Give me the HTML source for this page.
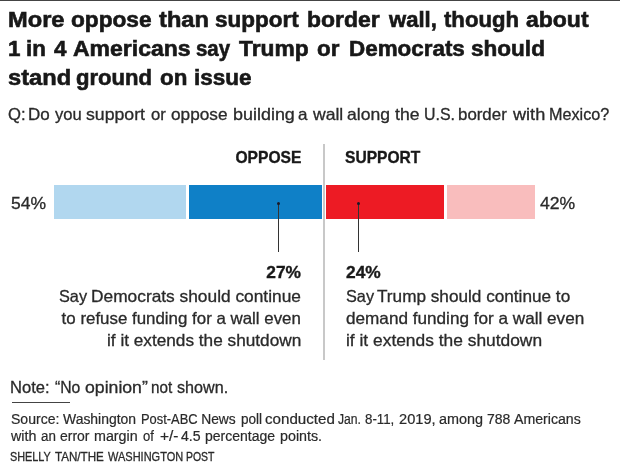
<!DOCTYPE html>
<html lang="en">
<head>
<meta charset="utf-8">
<title>More oppose than support border wall</title>
<style>
html,body{margin:0;padding:0;background:#fff;}
body{width:620px;height:472px;position:relative;overflow:hidden;font-family:"Liberation Sans",sans-serif;color:#222;}
.abs{position:absolute;white-space:nowrap;}
.L{transform-origin:0 50%;}
.R{transform-origin:100% 50%;}
#toprule{left:0;top:0;width:620px;height:1px;background:#444;}
.t{font-weight:bold;font-size:21.5px;line-height:28px;color:#181818;left:0;width:620px;height:28px;-webkit-text-stroke:0.6px #181818;}
.t span{position:absolute;top:0;white-space:nowrap;transform-origin:0 50%;}
#t1{top:6px;}
#t2{top:35.4px;}
#t3{top:63.6px;}
#q{left:0;top:104px;width:620px;height:20px;font-size:16.5px;line-height:20px;color:#2a2a2a;-webkit-text-stroke:0.3px #2a2a2a;}
#q span{position:absolute;top:0;white-space:nowrap;transform-origin:0 50%;}
.lab{font-weight:bold;font-size:16.2px;line-height:18px;color:#181818;top:148px;-webkit-text-stroke:0.35px #181818;}
#opp{right:318.5px;transform:scaleX(0.964);}
#sup{left:345.2px;transform:scaleX(0.963);}
#vline{left:323px;top:144px;width:2px;height:216px;background:#c8c8c8;}
.bar{top:185px;height:34.4px;}
#b1{left:54px;width:132px;background:#b1d7ef;}
#b2{left:188.5px;width:133px;background:#0f80c7;}
#b3{left:326px;width:118px;background:#ed1b24;}
#b4{left:446.5px;width:88px;background:#f9bdbd;}
.pct{font-size:17px;line-height:20px;color:#2a2a2a;top:194px;-webkit-text-stroke:0.3px #2a2a2a;}
#p54{left:11.3px;transform:scaleX(1.03);}
#p42{left:540.1px;transform:scaleX(1.035);}
.aline{width:1px;background:#333;top:204px;height:48px;}
.dot{width:3.4px;height:3.4px;border-radius:50%;background:#1a1a2a;top:202px;}
.num{font-weight:bold;font-size:17px;line-height:20px;color:#181818;top:262.5px;-webkit-text-stroke:0.35px #181818;}
.ann{font-size:16.5px;line-height:22px;color:#2a2a2a;-webkit-text-stroke:0.3px #2a2a2a;}
.aL{right:319px;}
.aR{left:345.8px;}
#note{top:377px;font-size:16.5px;line-height:20px;height:20px;color:#2a2a2a;-webkit-text-stroke:0.3px #2a2a2a;}
#srule{left:12px;top:402px;width:58px;height:1px;background:#444;}
.src{font-size:13.8px;line-height:16px;height:16px;color:#2a2a2a;-webkit-text-stroke:0.2px #2a2a2a;}
#cred{top:450px;font-size:12.3px;line-height:15px;height:15px;color:#2a2a2a;-webkit-text-stroke:0.3px #2a2a2a;}
.row{left:0;width:620px;}
.row span{position:absolute;top:0;white-space:nowrap;transform-origin:0 50%;}
</style>
</head>
<body>
<div class="abs" id="toprule"></div>
<div class="abs t" id="t1">
<span style="left:8.0px;transform:scaleX(1.100);">More</span>
<span style="left:70.5px;transform:scaleX(1.054);">oppose</span>
<span style="left:159.0px;transform:scaleX(1.100);">than</span>
<span style="left:214.6px;transform:scaleX(1.046);">support</span>
<span style="left:306.7px;transform:scaleX(1.066);">border</span>
<span style="left:388.6px;transform:scaleX(1.025);">wall,</span>
<span style="left:444.1px;transform:scaleX(1.029);">though</span>
<span style="left:526.3px;transform:scaleX(1.069);">about</span>
</div>
<div class="abs t" id="t2">
<span style="left:7.6px;transform:scaleX(1.040);">1</span>
<span style="left:26.1px;transform:scaleX(1.040);">in</span>
<span style="left:53.5px;transform:scaleX(1.040);">4</span>
<span style="left:72.6px;transform:scaleX(1.069);">Americans</span>
<span style="left:196.4px;transform:scaleX(0.950);">say</span>
<span style="left:238.7px;transform:scaleX(1.060);">Trump</span>
<span style="left:317.3px;transform:scaleX(1.040);">or</span>
<span style="left:349.1px;transform:scaleX(1.042);">Democrats</span>
<span style="left:471.4px;transform:scaleX(1.049);">should</span>
</div>
<div class="abs t" id="t3">
<span style="left:7.9px;transform:scaleX(1.100);">stand</span>
<span style="left:75.9px;transform:scaleX(1.027);">ground</span>
<span style="left:160.2px;transform:scaleX(1.040);">on</span>
<span style="left:194.1px;transform:scaleX(1.045);">issue</span>
</div>
<div class="abs" id="q">
<span style="left:8.1px;transform:scaleX(1.010);">Q:</span>
<span style="left:28.2px;transform:scaleX(1.030);">Do</span>
<span style="left:54.5px;transform:scaleX(1.005);">you</span>
<span style="left:86.2px;transform:scaleX(1.072);">support</span>
<span style="left:150.5px;transform:scaleX(1.009);">or</span>
<span style="left:170.8px;transform:scaleX(1.043);">oppose</span>
<span style="left:232.6px;transform:scaleX(1.087);">building</span>
<span style="left:298.0px;transform:scaleX(1.030);">a</span>
<span style="left:312.9px;transform:scaleX(1.065);">wall</span>
<span style="left:346.9px;transform:scaleX(1.063);">along</span>
<span style="left:394.5px;transform:scaleX(1.064);">the</span>
<span style="left:424.0px;transform:scaleX(0.964);">U.S.</span>
<span style="left:458.4px;transform:scaleX(1.022);">border</span>
<span style="left:513.0px;transform:scaleX(1.099);">with</span>
<span style="left:548.5px;transform:scaleX(0.981);">Mexico?</span>
</div>

<div class="abs lab R" id="opp">OPPOSE</div>
<div class="abs lab L" id="sup">SUPPORT</div>
<div class="abs" id="vline"></div>

<div class="abs bar" id="b1"></div>
<div class="abs bar" id="b2"></div>
<div class="abs bar" id="b3"></div>
<div class="abs bar" id="b4"></div>
<div class="abs pct L" id="p54">54%</div>
<div class="abs pct L" id="p42">42%</div>

<div class="abs aline" style="left:278px;"></div>
<div class="abs dot" style="left:276.8px;"></div>
<div class="abs aline" style="left:358px;"></div>
<div class="abs dot" style="left:356.8px;"></div>

<div class="abs num R" style="right:318.5px;transform:scaleX(1.02);">27%</div>
<div class="abs num L" style="left:346.1px;transform:scaleX(1.02);">24%</div>

<div class="abs ann L" style="top:285px;left:59.4px;transform:scaleX(0.985);">Say</div>
<div class="abs ann aL R" style="top:285px;transform:scaleX(1.05);">Democrats should continue</div>
<div class="abs ann aL R" style="top:307px;transform:scaleX(1.023);">to refuse funding for a wall even</div>
<div class="abs ann aL R" style="top:329px;transform:scaleX(1.043);">if it extends the shutdown</div>

<div class="abs ann aR L" style="top:285px;transform:scaleX(0.985);">Say</div>
<div class="abs ann L" style="top:285px;left:377.1px;transform:scaleX(1.041);">Trump should continue to</div>
<div class="abs ann aR L" style="top:307px;transform:scaleX(1.039);">demand funding for a wall even</div>
<div class="abs ann aR L" style="top:329px;transform:scaleX(1.053);">if it extends the shutdown</div>

<div class="abs row" id="note">
<span style="left:10.3px;transform:scaleX(1.004);">Note:</span>
<span style="left:54.7px;transform:scaleX(0.953);">“No</span>
<span style="left:84.6px;transform:scaleX(1.070);">opinion”</span>
<span style="left:150.6px;transform:scaleX(0.924);">not</span>
<span style="left:177.4px;transform:scaleX(0.978);">shown.</span>
</div>
<div class="abs" id="srule"></div>
<div class="abs row src" style="top:412px;">
<span style="left:10.6px;transform:scaleX(1.018);">Source:</span>
<span style="left:63.2px;transform:scaleX(1.010);">Washington</span>
<span style="left:141.0px;transform:scaleX(0.935);">Post-ABC</span>
<span style="left:201.2px;transform:scaleX(1.000);">News</span>
<span style="left:241.0px;transform:scaleX(0.984);">poll</span>
<span style="left:265.4px;transform:scaleX(1.098);">conducted</span>
<span style="left:337.9px;transform:scaleX(0.881);">Jan.</span>
<span style="left:365.4px;transform:scaleX(0.963);">8-11,</span>
<span style="left:398.7px;transform:scaleX(1.059);">2019,</span>
<span style="left:438.5px;transform:scaleX(1.044);">among</span>
<span style="left:486.7px;transform:scaleX(1.013);">788</span>
<span style="left:514.2px;transform:scaleX(1.025);">Americans</span>
</div>
<div class="abs row src" style="top:429px;">
<span style="left:11.2px;transform:scaleX(1.034);">with</span>
<span style="left:40.7px;transform:scaleX(0.969);">an</span>
<span style="left:60.1px;transform:scaleX(1.013);">error</span>
<span style="left:93.9px;transform:scaleX(1.036);">margin</span>
<span style="left:142.8px;transform:scaleX(0.944);">of</span>
<span style="left:159.5px;transform:scaleX(1.120);">+/-</span>
<span style="left:180.8px;transform:scaleX(1.021);">4.5</span>
<span style="left:204.9px;transform:scaleX(1.016);">percentage</span>
<span style="left:279.7px;transform:scaleX(1.035);">points.</span>
</div>
<div class="abs row" id="cred">
<span style="left:10.1px;transform:scaleX(0.882);">SHELLY</span>
<span style="left:55.0px;transform:scaleX(0.944);">TAN/THE</span>
<span style="left:108.0px;transform:scaleX(0.895);">WASHINGTON</span>
<span style="left:186.0px;transform:scaleX(0.850);">POST</span>
</div>
</body>
</html>
